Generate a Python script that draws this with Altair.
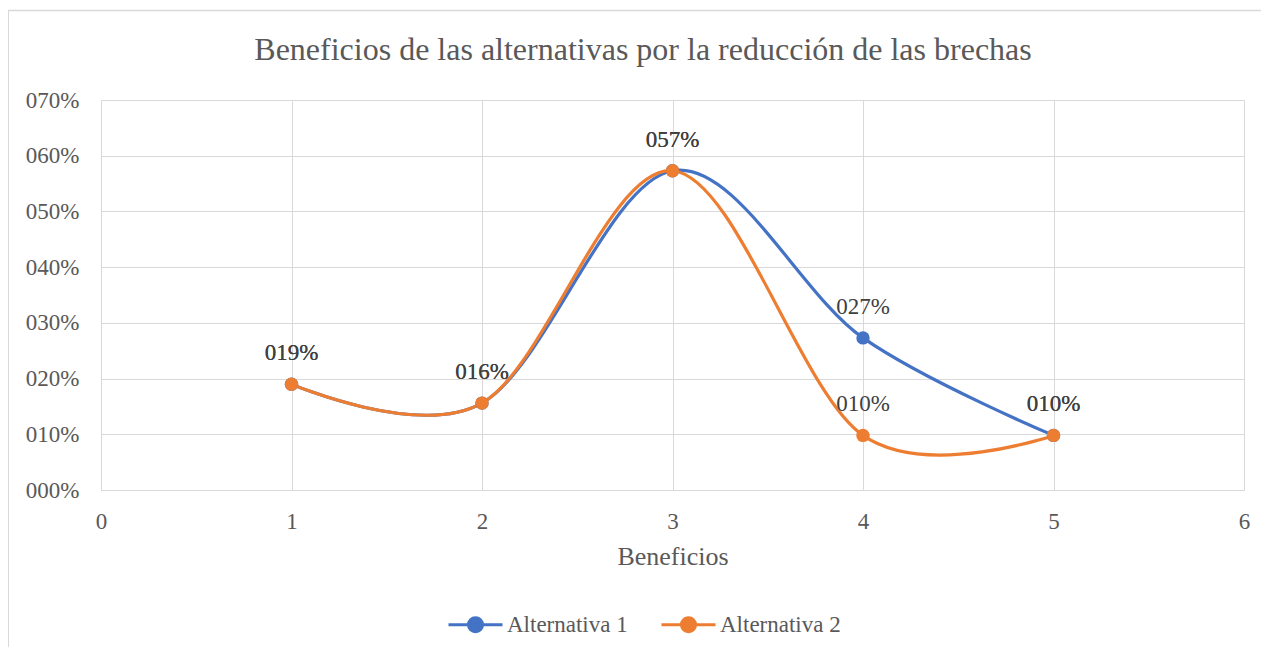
import altair as alt
import pandas as pd

# ---- data ----
title_text = "Beneficios de las alternativas por la reducción de las brechas"
beneficios = [1, 2, 3, 4, 5]
alternativa_1 = [0.190, 0.156, 0.573, 0.273, 0.098]
alternativa_2 = [0.190, 0.156, 0.573, 0.098, 0.098]
series = ["Alternativa 1", "Alternativa 2"]
colors = ["#4472C4", "#ED7D31"]
x_ticks = [0, 1, 2, 3, 4, 5, 6]
y_ticks = [0.0, 0.1, 0.2, 0.3, 0.4, 0.5, 0.6, 0.7]

rows = []
for name, vals in zip(series, [alternativa_1, alternativa_2]):
    for b, v in zip(beneficios, vals):
        rows.append({"Beneficios": b, "valor": v, "serie": name})
df = pd.DataFrame(rows)

FONT = "Liberation Serif"
TXT = "#595959"

legend_path = "M-1,0L1,0M0.26,0A0.26,0.26,0,1,1,-0.26,0A0.26,0.26,0,1,1,0.26,0"
legend = alt.Legend(
    title=None, orient="none", legendX=346, legendY=496, direction="horizontal",
    symbolType=legend_path, symbolSize=2916, symbolStrokeWidth=3,
    labelFont=FONT, labelFontSize=23, labelColor=TXT, labelOffset=3,
    columnPadding=27,
)

x = alt.X(
    "Beneficios:Q",
    scale=alt.Scale(domain=[0, 6], nice=False, zero=False),
    axis=alt.Axis(values=x_ticks, format="d", title="Beneficios", labelPadding=20,
                  titlePadding=10, titleFontSize=26, labelFlush=False),
)
y = alt.Y(
    "valor:Q",
    scale=alt.Scale(domain=[0, 0.7], nice=False),
    axis=alt.Axis(values=y_ticks, format="04.0%", title=None, labelPadding=22,
                  domain=False, labelFlush=False),
)
stroke_enc = alt.Stroke("serie:N", scale=alt.Scale(domain=series, range=colors), legend=legend)
fill_enc = alt.Fill("serie:N", scale=alt.Scale(domain=series, range=colors), legend=legend)

base = alt.Chart(df)

lines = base.mark_line(interpolate="cardinal", tension=0, strokeWidth=3.2).encode(
    x=x, y=y, stroke=stroke_enc, detail="serie:N"
)
points = base.mark_point(filled=True, size=180, opacity=1, strokeWidth=0).encode(
    x=x, y=y, fill=fill_enc, stroke=stroke_enc
)
labels = base.mark_text(dy=-31, font=FONT, fontSize=23, color="#404040").encode(
    x=x, y=y, text=alt.Text("valor:Q", format="04.0%")
)

one_row = pd.DataFrame({"t": [title_text]})
title_mark = alt.Chart(one_row).mark_text(
    font=FONT, fontSize=32, color=TXT, align="center", baseline="middle"
).encode(x=alt.value(542), y=alt.value(-50), text="t:N")

border_left = alt.Chart(one_row).mark_rule(color="#d9d9d9", strokeWidth=2).encode(
    x=alt.value(-93), y=alt.value(-90), y2=alt.value(560)
)
border_top = alt.Chart(one_row).mark_rule(color="#d9d9d9", strokeWidth=1.5).encode(
    x=alt.value(-94), x2=alt.value(1170), y=alt.value(-89.5)
)

chart = alt.layer(border_left, border_top, title_mark, lines, points, labels).properties(
    width=1143,
    height=390,
    autosize=alt.AutoSizeParams(type="none"),
    padding={"left": 93, "top": 92, "right": 17, "bottom": 157},
).configure_view(strokeWidth=0).configure_axis(
    grid=True, gridColor="#d9d9d9", gridWidth=1, ticks=False,
    domainColor="#d9d9d9", domainWidth=1,
    labelFont=FONT, labelFontSize=23, labelColor=TXT,
    titleFont=FONT, titleColor=TXT, titleFontWeight="normal",
)

chart.save("out.html", embed_options={"renderer": "svg", "actions": False})
